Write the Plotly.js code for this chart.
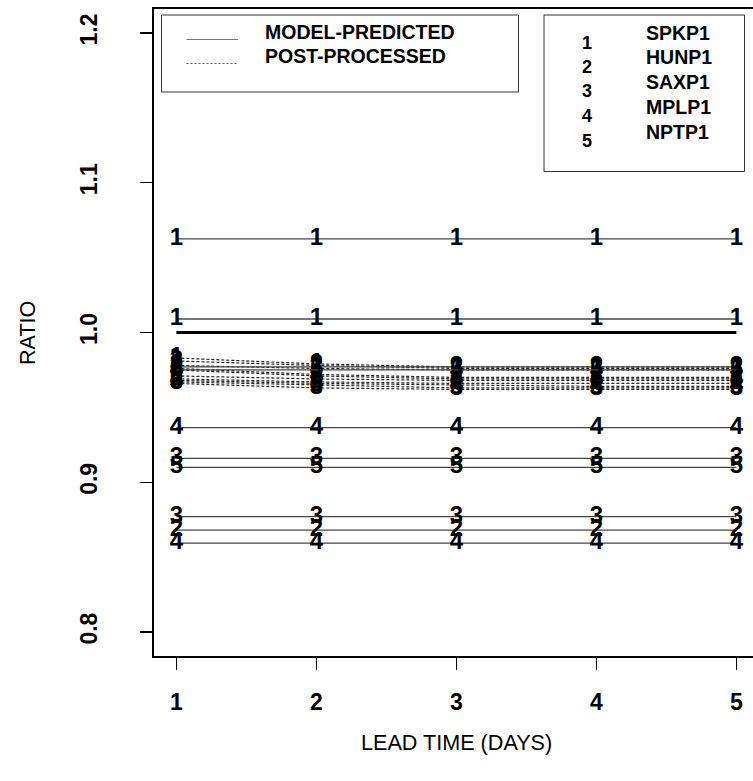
<!DOCTYPE html>
<html>
<head>
<meta charset="utf-8">
<script src="https://cdn.plot.ly/plotly-3.0.1.min.js"></script>
<style>html,body{margin:0;padding:0;background:#fff}</style>
</head>
<body>
<div id="chart" style="width:753px;height:781px"></div>
<script>
// Lead time (days) on the x axis
const leadTime = [1, 2, 3, 4, 5];

// Station codes drawn at each point and their names in the key
const stationCodes = ['1', '2', '3', '4', '5'];
const stationNames = ['SPKP1', 'HUNP1', 'SAXP1', 'MPLP1', 'NPTP1'];

// Curve type labels for the line-style key
const curveLabels = ['MODEL-PREDICTED', 'POST-PROCESSED'];

// Y-axis tick values and labels
const yTickVals = [0.8, 0.9, 1.0, 1.1, 1.2];
const yTickText = ['0.8', '0.9', '1.0', '1.1', '1.2'];

// Reference ratio of one
const unitRatio = [1.0, 1.0, 1.0, 1.0, 1.0];

// Model-predicted ratios, two curves per station
const modelSPKP1a = [1.0625, 1.0625, 1.0625, 1.0625, 1.0625];
const modelSPKP1b = [1.009, 1.009, 1.009, 1.009, 1.009];
const modelHUNP1a = [0.868, 0.868, 0.868, 0.868, 0.868];
const modelHUNP1b = [0.977, 0.977, 0.977, 0.977, 0.977];
const modelSAXP1a = [0.916, 0.916, 0.916, 0.916, 0.916];
const modelSAXP1b = [0.877, 0.877, 0.877, 0.877, 0.877];
const modelMPLP1a = [0.9365, 0.9365, 0.9365, 0.9365, 0.9365];
const modelMPLP1b = [0.8593, 0.8593, 0.8593, 0.8593, 0.8593];
const modelNPTP1a = [0.910, 0.910, 0.910, 0.910, 0.910];
const modelNPTP1b = [0.975, 0.975, 0.975, 0.975, 0.975];

// Post-processed ratios, two curves per station
const postSPKP1a = [0.983, 0.979, 0.977, 0.977, 0.977];
const postSPKP1b = [0.976, 0.972, 0.970, 0.970, 0.970];
const postHUNP1a = [0.981, 0.978, 0.976, 0.976, 0.976];
const postHUNP1b = [0.969, 0.967, 0.966, 0.966, 0.966];
const postSAXP1a = [0.978, 0.976, 0.975, 0.975, 0.975];
const postSAXP1b = [0.966, 0.963, 0.962, 0.962, 0.962];
const postMPLP1a = [0.975, 0.971, 0.969, 0.969, 0.969];
const postMPLP1b = [0.968, 0.966, 0.965, 0.964, 0.964];
const postNPTP1a = [0.971, 0.969, 0.968, 0.968, 0.968];
const postNPTP1b = [0.967, 0.965, 0.963, 0.963, 0.963];

const modelCurves = [
  [modelSPKP1a, 0], [modelSPKP1b, 0],
  [modelHUNP1a, 1], [modelHUNP1b, 1],
  [modelSAXP1a, 2], [modelSAXP1b, 2],
  [modelMPLP1a, 3], [modelMPLP1b, 3],
  [modelNPTP1a, 4], [modelNPTP1b, 4]
];
const postCurves = [
  [postSPKP1a, 0], [postSPKP1b, 0],
  [postHUNP1a, 1], [postHUNP1b, 1],
  [postSAXP1a, 2], [postSAXP1b, 2],
  [postMPLP1a, 3], [postMPLP1b, 3],
  [postNPTP1a, 4], [postNPTP1b, 4]
];

const FONT = 'Liberation Sans, Arial, sans-serif';
const W = 753, H = 781;
const M = {l: 154, r: 0, t: 9, b: 125};
const plotW = W - M.l - M.r, plotH = H - M.t - M.b;
// pixel position -> paper fraction
const pxX = px => (px - M.l) / plotW;
const pxY = py => 1 - (py - M.t) / plotH;

const digitFont = {family: FONT, size: 24, color: '#000', weight: 'bold'};

function curveTrace(values, station, line) {
  return {
    x: leadTime, y: values, type: 'scatter', mode: 'lines+text',
    text: leadTime.map(() => stationCodes[station]),
    textposition: 'middle center', textfont: digitFont,
    line: line, cliponaxis: false, showlegend: false, hoverinfo: 'skip'
  };
}

const traces = [];
traces.push({
  x: leadTime, y: unitRatio, type: 'scatter', mode: 'lines',
  line: {color: '#000', width: 3}, showlegend: false, hoverinfo: 'skip'
});
postCurves.forEach(([v, s]) => traces.push(curveTrace(v, s, {color: '#222', width: 1.2, dash: '3px,2px'})));
modelCurves.forEach(([v, s]) => traces.push(curveTrace(v, s, {color: '#444', width: 1.3})));

// Key boxes, samples and labels
const shapes = [
  {type: 'rect', xref: 'paper', yref: 'paper', x0: pxX(161.5), x1: pxX(518.5), y0: pxY(92), y1: pxY(15),
   line: {color: '#333', width: 1}},
  {type: 'rect', xref: 'paper', yref: 'paper', x0: pxX(544), x1: pxX(744.5), y0: pxY(171.5), y1: pxY(15),
   line: {color: '#333', width: 1}},
  {type: 'line', xref: 'paper', yref: 'paper', x0: pxX(186.5), x1: pxX(238), y0: pxY(39.5), y1: pxY(39.5),
   line: {color: '#777', width: 1.2}},
  {type: 'line', xref: 'paper', yref: 'paper', x0: pxX(186.5), x1: pxX(238), y0: pxY(63.5), y1: pxY(63.5),
   line: {color: '#555', width: 1.2, dash: '2px,2px'}}
];

const keyFont = {family: FONT, size: 19.5, color: '#000', weight: 'bold'};
const annotations = [];
const curveLabelY = [32.5, 56.5];
curveLabels.forEach((t, i) => annotations.push({
  text: t, xref: 'paper', yref: 'paper', x: pxX(262.5), y: pxY(curveLabelY[i]),
  xanchor: 'left', yanchor: 'middle', showarrow: false, font: keyFont
}));
const codeY = [43, 67, 91, 116, 141];
const nameY = [33.3, 56.7, 81.7, 107, 132];
stationNames.forEach((name, i) => {
  annotations.push({
    text: stationCodes[i], xref: 'paper', yref: 'paper', x: pxX(587), y: pxY(codeY[i]),
    xanchor: 'center', yanchor: 'middle', showarrow: false,
    font: {family: FONT, size: 18, color: '#000', weight: 'bold'}
  });
  annotations.push({
    text: name, xref: 'paper', yref: 'paper', x: pxX(644), y: pxY(nameY[i]),
    xanchor: 'left', yanchor: 'middle', showarrow: false, font: keyFont
  });
});

// Axis titles
const titleFont = {family: FONT, size: 21.6, color: '#000'};
annotations.push({
  text: 'LEAD TIME (DAYS)', xref: 'paper', yref: 'paper', x: pxX(456), y: pxY(742),
  xanchor: 'center', yanchor: 'middle', showarrow: false, font: titleFont
});
annotations.push({
  text: 'RATIO', xref: 'paper', yref: 'paper', x: pxX(27), y: pxY(333),
  xanchor: 'center', yanchor: 'middle', textangle: -90, showarrow: false, font: titleFont
});

const tickFont = {family: FONT, size: 23, color: '#000', weight: 'bold'};
const layout = {
  width: W, height: H, margin: M,
  paper_bgcolor: '#fff', plot_bgcolor: '#fff',
  showlegend: false,
  xaxis: {
    range: [0.84, 0.84 + plotW / 140], tickvals: leadTime, ticktext: leadTime.map(String),
    showgrid: false, zeroline: false, showline: true, mirror: true,
    linecolor: '#000', linewidth: 2, ticks: 'outside', ticklen: 12, tickwidth: 1.5,
    tickcolor: '#000', tickfont: tickFont, ticklabelstandoff: 12, fixedrange: true
  },
  yaxis: {
    range: [0.784, 1.216], tickvals: yTickVals, ticktext: yTickText, tickangle: -90,
    showgrid: false, zeroline: false, showline: true, mirror: false,
    linecolor: '#000', linewidth: 2, ticks: 'outside', ticklen: 12, tickwidth: 1.5,
    tickcolor: '#000', tickfont: tickFont, ticklabelstandoff: 34, fixedrange: true
  },
  shapes: shapes,
  annotations: annotations
};

Plotly.newPlot('chart', traces, layout, {staticPlot: true, displayModeBar: false});
</script>
</body>
</html>
